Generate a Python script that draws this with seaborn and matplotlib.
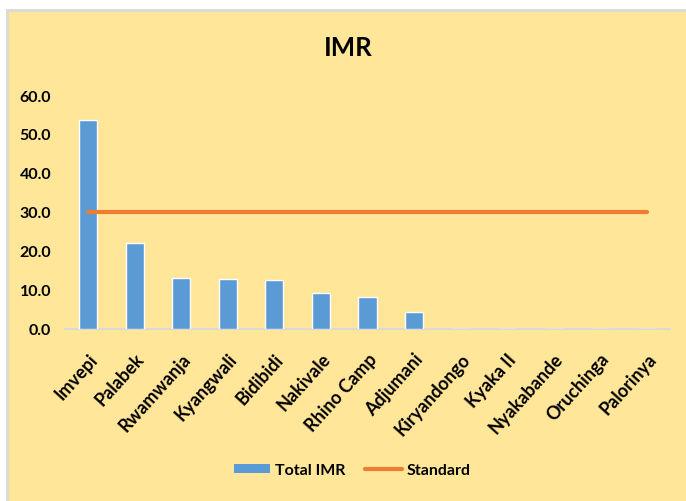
import numpy as np
import matplotlib
matplotlib.use('Agg')
import matplotlib.pyplot as plt
import seaborn as sns
from matplotlib.patches import Rectangle, Patch
from matplotlib.lines import Line2D

# Chart data
sites = ['Imvepi', 'Palabek', 'Rwamwanja', 'Kyangwali', 'Bidibidi', 'Nakivale',
         'Rhino Camp', 'Adjumani', 'Kiryandongo', 'Kyaka II', 'Nyakabande',
         'Oruchinga', 'Palorinya']
total_imr = [53.6, 22.1, 13.1, 12.8, 12.5, 9.2, 8.3, 4.3, 0, 0, 0, 0, 0]
standard = [30, 30, 30, 30, 30, 30, 30, 30, 30, 30, 30, 30, 30]
yticks = [0, 10, 20, 30, 40, 50, 60]

BG = '#FFE699'
BLUE = '#5B9BD5'
ORANGE = '#ED7D31'


def main():
    sns.set_style('white')
    plt.rcParams['font.family'] = ['Lato', 'DejaVu Sans']
    plt.rcParams['text.color'] = 'black'
    plt.rcParams['xtick.color'] = 'black'
    plt.rcParams['ytick.color'] = 'black'

    fig = plt.figure(figsize=(6.86, 5.02), dpi=100)
    fig.patch.set_facecolor('white')
    # yellow chart area with grey border on top/left
    fig.patches.append(Rectangle((7 / 686, -0.01), 1.0, 1 - 11 / 502 + 0.01,
                                 transform=fig.transFigure, facecolor=BG,
                                 edgecolor='#D9D9D9', linewidth=2, zorder=-5))

    ax = fig.add_axes([65 / 686, 1 - 330 / 502, (670 - 65) / 686, (330 - 96) / 502])
    ax.set_facecolor('none')

    sns.barplot(x=sites, y=total_imr, color=BLUE, width=0.39, ax=ax,
                saturation=1, zorder=2)
    sns.lineplot(x=np.arange(len(sites)), y=standard, color=ORANGE,
                 linewidth=3, ax=ax, zorder=3)

    ax.set_ylim(0, 60)
    ax.set_xlim(-0.5, len(sites) - 0.5)
    ax.set_yticks(yticks)
    ax.set_yticklabels([f'{v:.1f}' for v in yticks], fontsize=11.5, fontweight='bold')
    ax.set_xticks(np.arange(len(sites)))
    ax.set_xticklabels(sites, rotation=48, ha='right', va='top',
                       rotation_mode='anchor', fontsize=13, fontweight='bold')
    ax.tick_params(axis='both', length=0)
    ax.tick_params(axis='y', pad=10)
    ax.tick_params(axis='x', pad=15)
    ax.set_xlabel('')
    ax.set_ylabel('')

    for s in ['top', 'right', 'left']:
        ax.spines[s].set_visible(False)
    ax.spines['bottom'].set_color('#D9D9D9')
    ax.spines['bottom'].set_linewidth(1.5)
    ax.spines['bottom'].set_zorder(1)

    fig.text(348 / 686, 1 - 48 / 502, 'IMR', ha='center', va='center',
             fontsize=18.5, fontweight='bold')

    handles = [Patch(facecolor=BLUE, edgecolor='none'),
               Line2D([0], [0], color=ORANGE, linewidth=3)]
    fig.legend(handles, ['Total IMR', 'Standard'], loc='center',
               bbox_to_anchor=(352 / 686, 1 - 471 / 502), ncol=2, frameon=False,
               prop={'weight': 'bold', 'size': 11.5}, handlelength=2.3,
               handleheight=0.55, columnspacing=1.2, handletextpad=0.3)

    fig.savefig('out.png', dpi=100, facecolor=fig.get_facecolor())


if __name__ == '__main__':
    main()
